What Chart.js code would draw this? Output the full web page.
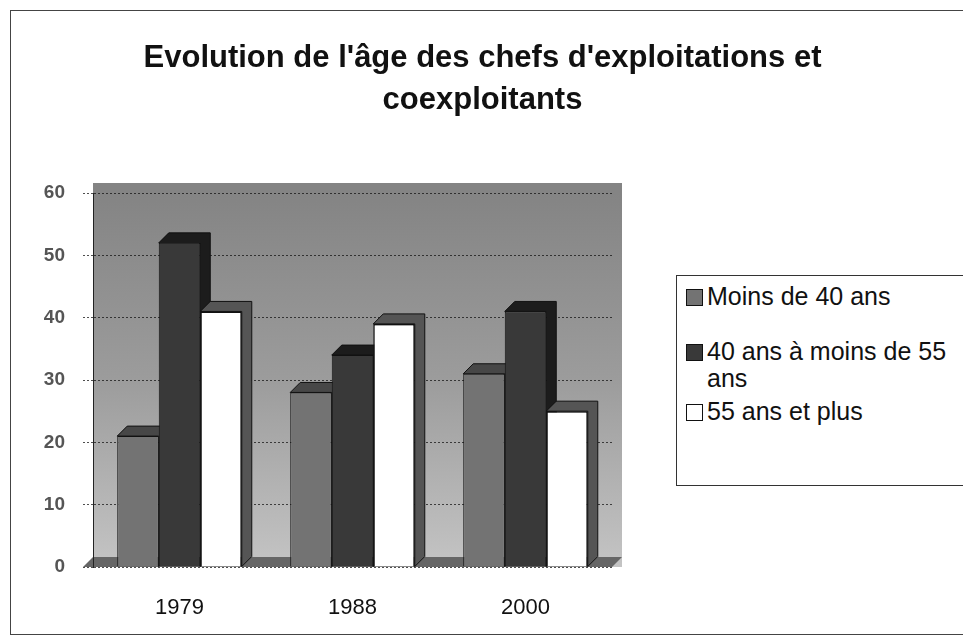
<!DOCTYPE html>
<html>
<head>
<meta charset="utf-8">
<script src="https://cdn.jsdelivr.net/npm/chart.js@4"></script>
<style>
    html, body { margin: 0; padding: 0; background: #fff; width: 963px; height: 637px; overflow: hidden; }
    #frame { position: absolute; left: 10px; top: 10px; width: 945px; height: 625px; border: 1px solid #444; border-right: none; box-sizing: border-box; }
    #rule { position: absolute; left: 955px; top: 10px; width: 10px; height: 625px; border-top: 1px solid #444; border-bottom: 1px solid #444; box-sizing: border-box; }
    #title { position: absolute; left: 10px; top: 36px; width: 945px; text-align: center; font-family: Arial, "Liberation Sans", sans-serif; font-weight: bold; font-size: 31px; line-height: 42px; color: #111; }
    #legend { position: absolute; left: 676px; top: 275px; width: 300px; height: 211px; border: 1.5px solid #333; border-right: none; background: #fff; box-sizing: border-box; font-family: Arial, "Liberation Sans", sans-serif; font-size: 25px; color: #111; padding-top: 7px; }
    .item { display: flex; align-items: flex-start; padding-left: 9px; }
    .box { width: 15px; height: 15px; border: 1.5px solid #111; margin: 6px 4px 0 0; flex: none; }
    .txt { width: 255px; line-height: 27px; }
</style>
</head>
<body>
<div id="frame"><canvas id="chart"></canvas></div>
<div id="rule"></div>
<div id="title">Evolution de l'âge des chefs d'exploitations et<br>coexploitants</div>
<div id="legend"></div>
<script>
document.addEventListener('DOMContentLoaded', function() {
    const years = ['1979', '1988', '2000'];
    const seriesNames = ['Moins de 40 ans', '40 ans à moins de 55 ans', '55 ans et plus'];
    const moins40 = [21, 28, 31];
    const de40a55 = [52, 34, 41];
    const plus55 = [41, 39, 25];

    const fills = ['#737373', '#393939', '#ffffff'];
    const sides = ['#474747', '#1c1c1c', '#555555'];
    const depth = 10;

    // wall shading + fake 3D depth behind each bar
    const wall = {
        id: 'wall',
        beforeDraw(chart) {
            const a = chart.chartArea, c = chart.ctx;
            const g = c.createLinearGradient(0, a.top, 0, a.bottom);
            g.addColorStop(0, '#848484');
            g.addColorStop(0.5, '#9c9c9c');
            g.addColorStop(1, '#c4c4c4');
            c.save();
            c.fillStyle = g;
            c.fillRect(a.left, a.top - depth, a.right - a.left + depth, a.bottom - a.top + depth);
            c.fillStyle = '#666';
            c.beginPath();
            c.moveTo(a.left - depth, a.bottom);
            c.lineTo(a.right, a.bottom);
            c.lineTo(a.right + depth, a.bottom - depth);
            c.lineTo(a.left, a.bottom - depth);
            c.closePath();
            c.fill();
            c.restore();
        },
        beforeDatasetsDraw(chart) {
            const c = chart.ctx;
            c.save();
            chart.data.datasets.forEach((ds, i) => {
                chart.getDatasetMeta(i).data.forEach(bar => {
                    const l = bar.x - bar.width / 2, r = bar.x + bar.width / 2;
                    c.fillStyle = sides[i];
                    c.strokeStyle = '#111';
                    c.lineWidth = 1;
                    c.beginPath();
                    c.moveTo(l, bar.y);
                    c.lineTo(l + depth, bar.y - depth);
                    c.lineTo(r + depth, bar.y - depth);
                    c.lineTo(r + depth, bar.base - depth);
                    c.lineTo(r, bar.base);
                    c.lineTo(r, bar.y);
                    c.closePath();
                    c.fill();
                    c.stroke();
                });
            });
            c.restore();
        }
    };

    const ctx = document.getElementById('chart').getContext('2d');
    const chart = new Chart(ctx, {
        type: 'bar',
        data: {
            labels: years,
            datasets: [
                { label: seriesNames[0], data: moins40, backgroundColor: fills[0], borderColor: '#111', borderWidth: 1 },
                { label: seriesNames[1], data: de40a55, backgroundColor: fills[1], borderColor: '#111', borderWidth: 1 },
                { label: seriesNames[2], data: plus55, backgroundColor: fills[2], borderColor: '#111', borderWidth: 1.5 }
            ]
        },
        options: {
            responsive: true,
            maintainAspectRatio: false,
            animation: false,
            layout: { padding: { left: 0, right: 343, top: 182, bottom: 15 } },
            categoryPercentage: 0.72,
            barPercentage: 1,
            plugins: {
                legend: { display: false },
                tooltip: { enabled: false },
                title: { display: false }
            },
            scales: {
                x: {
                    grid: { display: false },
                    border: { display: false },
                    ticks: { color: '#111', font: { family: 'Arial, "Liberation Sans", sans-serif', size: 22 }, padding: 20 },
                    afterFit(s) { s.height = 52; }
                },
                y: {
                    min: 0,
                    max: 60,
                    ticks: { stepSize: 10, color: '#555', font: { family: 'Arial, "Liberation Sans", sans-serif', size: 19, weight: 'bold' }, padding: 18 },
                    grid: { color: 'rgba(20,20,20,0.75)', borderDash: [2, 2], tickLength: 10, tickBorderDash: [2, 2] },
                    border: { color: '#222', dash: [2, 2] },
                    afterFit(s) { s.width = 82; }
                }
            }
        },
        plugins: [wall]
    });

    // legend box built from the datasets
    const legend = document.getElementById('legend');
    const gaps = [28, 6, 0];
    chart.data.datasets.forEach((ds, i) => {
        const row = document.createElement('div');
        row.className = 'item';
        row.style.marginBottom = gaps[i] + 'px';
        row.innerHTML = '<span class="box" style="background:' + ds.backgroundColor + '"></span><span class="txt">' + ds.label + '</span>';
        legend.appendChild(row);
    });
});
</script>
</body>
</html>
